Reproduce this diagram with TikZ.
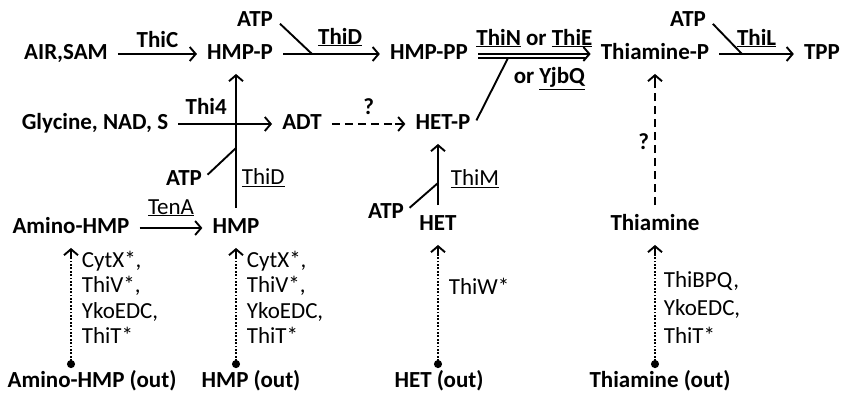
\documentclass[tikz,border=0pt]{standalone}
\usepackage{fontspec}
\setmainfont{Carlito}
\usepackage{tikz}
\usetikzlibrary{arrows.meta}

\begin{document}
\begin{tikzpicture}[
  x=1pt,y=-1pt,
  mol/.style={font=\fontsize{23}{27}\selectfont\bfseries,text height=15.5pt,text depth=4pt,inner sep=4pt},
  lab/.style={font=\fontsize{23}{27}\selectfont,text height=15.5pt,text depth=4pt,inner sep=2pt},
  blab/.style={lab,font=\fontsize{23}{27}\selectfont\bfseries},
  tr/.style={font=\fontsize{23}{25.5}\selectfont,align=left,inner sep=0pt},
  line/.style={line width=1.9pt},
  arr/.style={line,-{Straight Barb[length=6pt,width=14pt,line width=1.9pt]},shorten >=6pt,shorten <=6pt},
  tipend/.style={line,-{Straight Barb[length=6pt,width=14pt,line width=1.9pt]},shorten >=6pt},
  dasharr/.style={line,dash pattern=on 8pt off 5pt,shorten >=12pt,shorten <=6pt},
  dotarr/.style={line width=1.7pt,dash pattern=on 1.7pt off 1.7pt,
    {Circle[length=8pt,width=8pt]}-,shorten >=12pt}
]
  \useasboundingbox (0,0) rectangle (843,393);

  \node[mol] (AIRSAM)  at (66,54)   {AIR,SAM};
  \node[mol] (HMPP)    at (240,54)  {HMP-P};
  \node[mol] (HMPPP)   at (429,54)  {HMP-PP};
  \node[mol] (ThiaP)   at (655,54)  {Thiamine-P};
  \node[mol] (TPP)     at (822,54)  {TPP};
  \node[mol] (ATPa)    at (255,21)  {ATP};
  \node[mol] (ATPb)    at (688,21)  {ATP};
  \node[mol] (Gly)     at (95,124)  {Glycine, NAD, S};
  \node[mol] (ADT)     at (302,124) {ADT};
  \node[mol] (HETP)    at (443,124) {HET-P};
  \node[mol] (ATPc)    at (184,180) {ATP};
  \node[mol] (AHMP)    at (71,228)  {Amino-HMP};
  \node[mol] (HMP)     at (236,228) {HMP};
  \node[mol] (ATPd)    at (386,213) {ATP};
  \node[mol] (HET)     at (438,225) {HET};
  \node[mol] (Thia)    at (655,225) {Thiamine};
  \node[mol] (AHMPout) at (92,382)  {Amino-HMP (out)};
  \node[mol] (HMPout)  at (251,382) {HMP (out)};
  \node[mol] (HETout)  at (439,382) {HET (out)};
  \node[mol] (Thiaout) at (660,382) {Thiamine (out)};

  \coordinate (jA) at (312,54);
  \coordinate (jB) at (508,58);
  \coordinate (jC) at (742,54);
  \coordinate (jD) at (236,148);
  \coordinate (jE) at (438,183);

  \draw[arr] (AIRSAM) -- node[blab,above]{ThiC} (HMPP);
  \draw[arr] (HMPP) -- node[blab,above=3pt,pos=0.58]{\underline{ThiD}} (HMPPP);
  \draw[line,shorten <=4pt] (ATPa.east) -- (jA);
  \draw[arr] (HMPPP) -- node[blab,above=2pt]{\underline{ThiN} or \underline{ThiE}} (ThiaP);
  \draw[line,shorten <=6pt,shorten >=11pt] ([yshift=-4pt]HMPPP.east) -- node[blab,below=7pt,pos=0.62]{or \underline{YjbQ}} ([yshift=-4pt]ThiaP.west);
  \draw[line,shorten <=4pt] (HETP.east) -- (jB);
  \draw[arr] (ThiaP) -- node[blab,above=2pt]{\underline{ThiL}} (TPP);
  \draw[line,shorten <=4pt] (ATPb.east) -- (jC);
  \draw[arr] (Gly) -- node[blab,above=3pt,pos=0.32]{Thi4} (ADT);
  \draw[dasharr] (ADT) -- node[blab,above=3pt]{?} (HETP);
  \draw[tipend] ([xshift=-16pt]HETP.west) -- (HETP.west);
  \draw[arr] (HMP) -- node[lab,right=3pt,pos=0.24]{\underline{ThiD}} (HMP |- HMPP.south);
  \draw[line,shorten <=2pt] (ATPc.10) -- (jD);
  \draw[arr] (AHMP) -- node[lab,above=7pt]{\underline{TenA}} (HMP);
  \draw[arr] (HET) -- node[lab,right=10pt,pos=0.43]{\underline{ThiM}} (HET |- HETP.south);
  \draw[line,shorten <=2pt] (ATPd.10) -- (jE);
  \draw[dasharr] (Thia) -- node[blab,left=3pt,pos=0.47]{?} (ThiaP);
  \draw[tipend] ([yshift=-16pt]ThiaP.south) -- (ThiaP.south);

  \draw[dotarr] (AHMP |- AHMPout.north) -- node[tr,right=10pt,pos=0.56]{CytX*,\\ThiV*,\\YkoEDC,\\ThiT*} (AHMP);
  \draw[tipend] ([yshift=-16pt]AHMP.south) -- (AHMP.south);
  \draw[dotarr] (HMP |- HMPout.north) -- node[tr,right=10pt,pos=0.56]{CytX*,\\ThiV*,\\YkoEDC,\\ThiT*} (HMP);
  \draw[tipend] ([yshift=-16pt]HMP.south) -- (HMP.south);
  \draw[dotarr] (HET |- HETout.north) -- node[tr,right=10pt,pos=0.63]{ThiW*} (HET);
  \draw[tipend] ([yshift=-16pt]HET.south) -- (HET.south);
  \draw[dotarr] (Thia |- Thiaout.north) -- node[tr,font=\fontsize{23}{28}\selectfont,right=8pt,pos=0.47]{ThiBPQ,\\YkoEDC,\\ThiT*} (Thia);
  \draw[tipend] ([yshift=-16pt]Thia.south) -- (Thia.south);
\end{tikzpicture}
\end{document}
